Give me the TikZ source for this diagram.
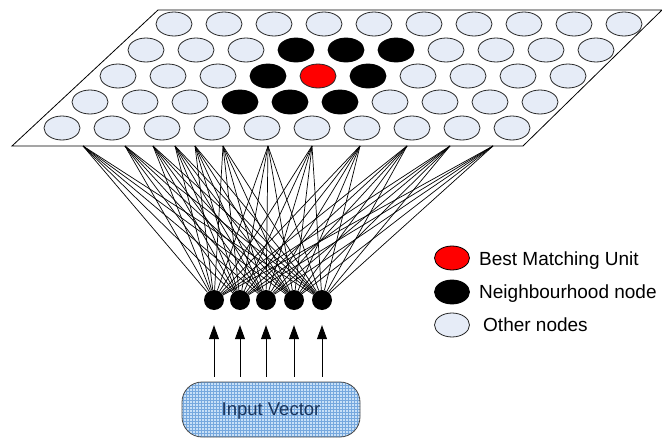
\documentclass[tikz,border=0pt]{standalone}
\usepackage{fontspec}
\setmainfont{Liberation Sans}
\usetikzlibrary{arrows.meta,patterns,shapes.geometric,positioning}
\definecolor{otherfill}{RGB}{230,236,247}
\definecolor{vecfill}{RGB}{200,224,247}
\definecolor{vecgrid}{RGB}{118,168,222}
\definecolor{vectext}{RGB}{25,52,92}

\begin{document}
\begin{tikzpicture}[x=1pt, y=-1pt,
        unit/.style={draw=black!85, ellipse, minimum width=36pt, minimum height=24pt, inner sep=0pt, fill=otherfill, line width=0.8pt},
        bmu/.style={unit, fill=red},
        neigh/.style={unit, fill=black, draw=black},
        innode/.style={circle, fill=black, minimum size=20pt, inner sep=0pt},
        link/.style={draw, line width=0.7pt},
        legtext/.style={anchor=base west, inner sep=0pt, font=\fontsize{19}{22}\selectfont},
    ]
    \useasboundingbox (0,0) rectangle (662,439);

    % map sheet
    \draw[fill=white, line width=0.8pt] (12,146) -- (523,146) -- (662,10) -- (158,10) -- cycle;
    \foreach \r in {0,...,4}
        \foreach \c in {0,...,9}{
            \def\kind{unit}
            \ifnum\r>0 \ifnum\r<4 \ifnum\c>2 \ifnum\c<6 \def\kind{neigh}\fi\fi\fi\fi
            \ifnum\r=2 \ifnum\c=4 \def\kind{bmu}\fi\fi
            \node[\kind] (u\r\c) at ({174-28*\r+50*\c},{24+26*\r}) {};
        }

    % input layer
    \foreach \x [count=\i] in {214,240,266,294,322}
        \node[innode] (in\i) at (\x,300) {};
    \foreach \x [count=\k] in {83,125,153,175,195,223,268,312,360,407,450,493}
        \coordinate (a\k) at (\x,146);
    \foreach \k in {1,...,12}
        \foreach \i in {1,...,5}
            \draw[link] (a\k) -- (in\i);

    \node[draw=black!70, line width=0.8pt, rounded corners=20pt, minimum width=178pt, minimum height=55pt,
        preaction={fill=vecfill}, pattern=grid, pattern color=vecgrid, text=vectext, text depth=0pt,
        font=\fontsize{18.5}{22}\selectfont] (vec) at (271,409.5) {Input Vector};
    \foreach \i in {1,...,5}
        \draw[-{Triangle[width=10pt,length=14pt]}, line width=0.9pt, shorten <=5pt, shorten >=15pt] (vec.north -| in\i) -- (in\i);

    % legend
    \node[bmu, draw=black, minimum width=35pt] (lbmu) at (452,258) {};
    \node[neigh, minimum width=35pt] (lneigh) at (452,292) {};
    \node[unit, minimum width=35pt] (lother) at (452,325) {};
    \node[legtext] (tbmu) at (479,265) {Best Matching Unit};
    \node[legtext] (tneigh) at (479,298.5) {Neighbourhood node};
    \node[legtext] (tother) at (483,331) {Other nodes};
\end{tikzpicture}
\end{document}
